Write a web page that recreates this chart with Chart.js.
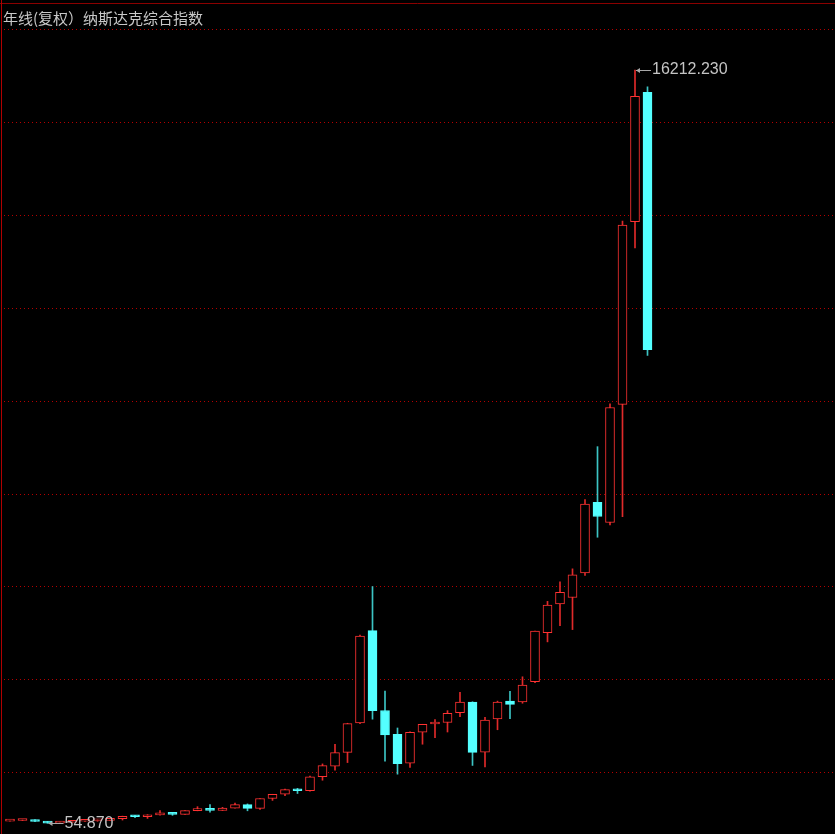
<!DOCTYPE html>
<html>
<head>
<meta charset="utf-8">
<script src="https://cdn.jsdelivr.net/npm/chart.js@4/dist/chart.umd.min.js"></script>
<style>
  html, body { margin: 0; padding: 0; background: #000; }
  canvas { display: block; }
</style>
</head>
<body>
<canvas id="chart" width="835" height="834"></canvas>
<script>
const title = '年线(复权）纳斯达克综合指数'

const years = [1971,1972,1973,1974,1975,1976,1977,1978,1979,1980,
  1981,1982,1983,1984,1985,1986,1987,1988,1989,1990,
  1991,1992,1993,1994,1995,1996,1997,1998,1999,2000,
  2001,2002,2003,2004,2005,2006,2007,2008,2009,2010,
  2011,2012,2013,2014,2015,2016,2017,2018,2019,2020,
  2021,2022]

const opens = [100.00,114.12,133.73,92.19,59.82,77.62,97.88,105.05,117.98,151.14,
  202.34,195.84,232.41,278.60,247.35,324.93,349.33,330.47,381.38,454.82,
  373.84,586.34,676.95,776.80,751.96,1052.13,1280.70,1574.10,2207.54,4186.19,
  2474.16,1965.19,1346.93,2011.08,2184.75,2216.53,2429.72,2653.91,1578.87,2294.41,
  2676.65,2657.39,3091.33,4143.07,4760.24,4897.65,5425.62,6937.65,6506.91,9039.46,
  12958.52,15732.50]

const highs = [114.12,135.15,136.84,96.53,88.00,97.88,105.05,139.25,152.29,208.15,
  223.47,240.70,328.91,287.90,325.16,411.16,455.26,397.54,487.60,470.30,
  586.34,676.95,787.42,803.93,1069.79,1328.45,1748.62,2200.63,4090.61,5132.52,
  2892.36,2098.88,2015.23,2178.34,2278.16,2470.95,2861.51,2661.50,2326.28,2675.26,
  2887.75,3196.93,4177.73,4814.95,5231.94,5512.37,6995.97,8133.30,9052.00,12973.33,
  16212.23,15852.14]

const lows = [99.68,113.65,88.67,54.87,59.82,77.60,93.66,99.09,117.84,124.09,
  175.03,159.14,230.59,225.30,245.82,322.14,291.88,329.00,376.87,322.93,
  352.85,545.85,645.87,693.79,743.58,978.17,1194.39,1357.09,2193.00,2288.16,
  1387.06,1108.49,1253.22,1750.82,1889.83,2012.78,2340.68,1295.48,1265.52,2061.14,
  2298.89,2630.00,3070.00,3946.03,4292.14,4209.76,5371.90,6190.17,6457.13,6631.42,
  12397.05,10088.83]

const closes = [114.12,133.73,92.19,59.82,77.62,97.88,105.05,117.98,151.14,202.34,
  195.84,232.41,278.60,247.35,324.93,349.33,330.47,381.38,454.82,373.84,
  586.34,676.95,776.80,751.96,1052.13,1291.03,1570.35,2192.69,4069.31,2470.52,
  1950.40,1335.51,2003.37,2175.44,2205.32,2415.29,2652.28,1577.03,2269.15,2652.87,
  2605.15,3019.51,4176.59,4736.05,5007.41,5383.12,6903.39,6635.28,8972.60,12888.28,
  15644.97,10213.29]

// evenly spaced price grid of the terminal
const gridValues = [1155, 3146, 5137, 7128, 9119, 11110, 13101, 15092, 17083]

const RED = '#ff3232'
const RED_WICK = '#e02a2a'
const CYAN = '#54ffff'
const CYAN_WICK = '#3cc4c4'

const up = years.map((y, i) => closes[i] >= opens[i])

const bodies = {
  label: 'body',
  data: years.map((y, i) => ({ x: y, y: [opens[i], closes[i]] })),
  backgroundColor: up.map(u => u ? '#000' : CYAN),
  borderColor: up.map(u => u ? RED : CYAN),
  borderWidth: 1,
  borderSkipped: false,
  barThickness: 9,
  minBarLength: 2,
  grouped: false,
}

const wicks = {
  label: 'wick',
  data: years.map((y, i) => ({ x: y, y: [lows[i], highs[i]] })),
  backgroundColor: up.map(u => u ? RED_WICK : CYAN_WICK),
  borderWidth: 0,
  barThickness: 1,
  grouped: false,
}

function markLabel(ctx, px, py, text) {
  const ry = Math.round(py)
  ctx.strokeStyle = '#a8a8a8'
  ctx.fillStyle = '#a8a8a8'
  ctx.lineWidth = 1
  ctx.beginPath()
  ctx.moveTo(px + 1, ry + 0.5)
  ctx.lineTo(px + 16, ry + 0.5)
  ctx.stroke()
  ctx.beginPath()
  ctx.moveTo(px + 1, ry + 0.5)
  ctx.lineTo(px + 5, ry - 2)
  ctx.lineTo(px + 5, ry + 3)
  ctx.closePath()
  ctx.fill()
  ctx.fillStyle = '#c4c4c4'
  ctx.font = '16px "Liberation Sans", Arial, sans-serif'
  ctx.textBaseline = 'middle'
  ctx.textAlign = 'left'
  ctx.fillText(text, px + 17, py)
}

const decor = {
  id: 'decor',
  beforeDraw(chart) {
    const ctx = chart.ctx
    const ys = chart.scales.y
    const area = chart.chartArea
    ctx.save()
    ctx.fillStyle = '#000'
    ctx.fillRect(0, 0, chart.width, chart.height)
    // dotted price grid
    ctx.fillStyle = '#b40000'
    gridValues.forEach(v => {
      const y = Math.round(ys.getPixelForValue(v))
      for (let x = area.left + 2; x < area.right; x += 4) ctx.fillRect(x, y, 1, 1)
    })
    ctx.restore()
  },
  afterDatasetsDraw(chart) {
    const ctx = chart.ctx
    const xs = chart.scales.x
    const ys = chart.scales.y
    const area = chart.chartArea
    ctx.save()
    // frame
    ctx.strokeStyle = '#8a0000'
    ctx.lineWidth = 1
    ctx.beginPath()
    ctx.moveTo(0, area.top - 0.5)
    ctx.lineTo(chart.width, area.top - 0.5)
    ctx.stroke()
    ctx.strokeStyle = '#b00000'
    ctx.beginPath()
    ctx.moveTo(area.left - 0.5, 0)
    ctx.lineTo(area.left - 0.5, chart.height)
    ctx.stroke()

    // title
    ctx.fillStyle = '#c8c8c8'
    ctx.font = '15px "Noto Sans CJK SC", sans-serif'
    ctx.textBaseline = 'middle'
    ctx.fillText(title, area.left + 1, area.top + 14)

    // highest high / lowest low
    const hi = highs.indexOf(Math.max(...highs))
    const lo = lows.indexOf(Math.min(...lows))
    markLabel(ctx, xs.getPixelForValue(years[hi]), ys.getPixelForValue(highs[hi]), highs[hi].toFixed(3))
    markLabel(ctx, xs.getPixelForValue(years[lo]), ys.getPixelForValue(lows[lo]), lows[lo].toFixed(3))
    ctx.restore()
  }
}

const chart = new Chart(document.getElementById('chart'), {
  type: 'bar',
  data: { datasets: [bodies, wicks] },
  options: {
    responsive: false,
    animation: false,
    devicePixelRatio: 1,
    layout: { padding: { left: 2, top: 4, right: 0, bottom: 0 } },
    plugins: {
      legend: { display: false },
      tooltip: { enabled: false },
      title: { display: false },
    },
    scales: {
      x: {
        type: 'linear',
        min: 1970.36,
        max: 2037,
        display: false,
        offset: false,
      },
      y: {
        type: 'linear',
        min: -175,
        max: 17628,
        afterBuildTicks: scale => { scale.ticks = gridValues.map(v => ({ value: v })) },
        afterFit: scale => { scale.width = 0 },
        ticks: { display: false },
        grid: { display: false, drawTicks: false },
        border: { display: false },
      },
    },
  },
  plugins: [decor],
})
</script>
</body>
</html>
